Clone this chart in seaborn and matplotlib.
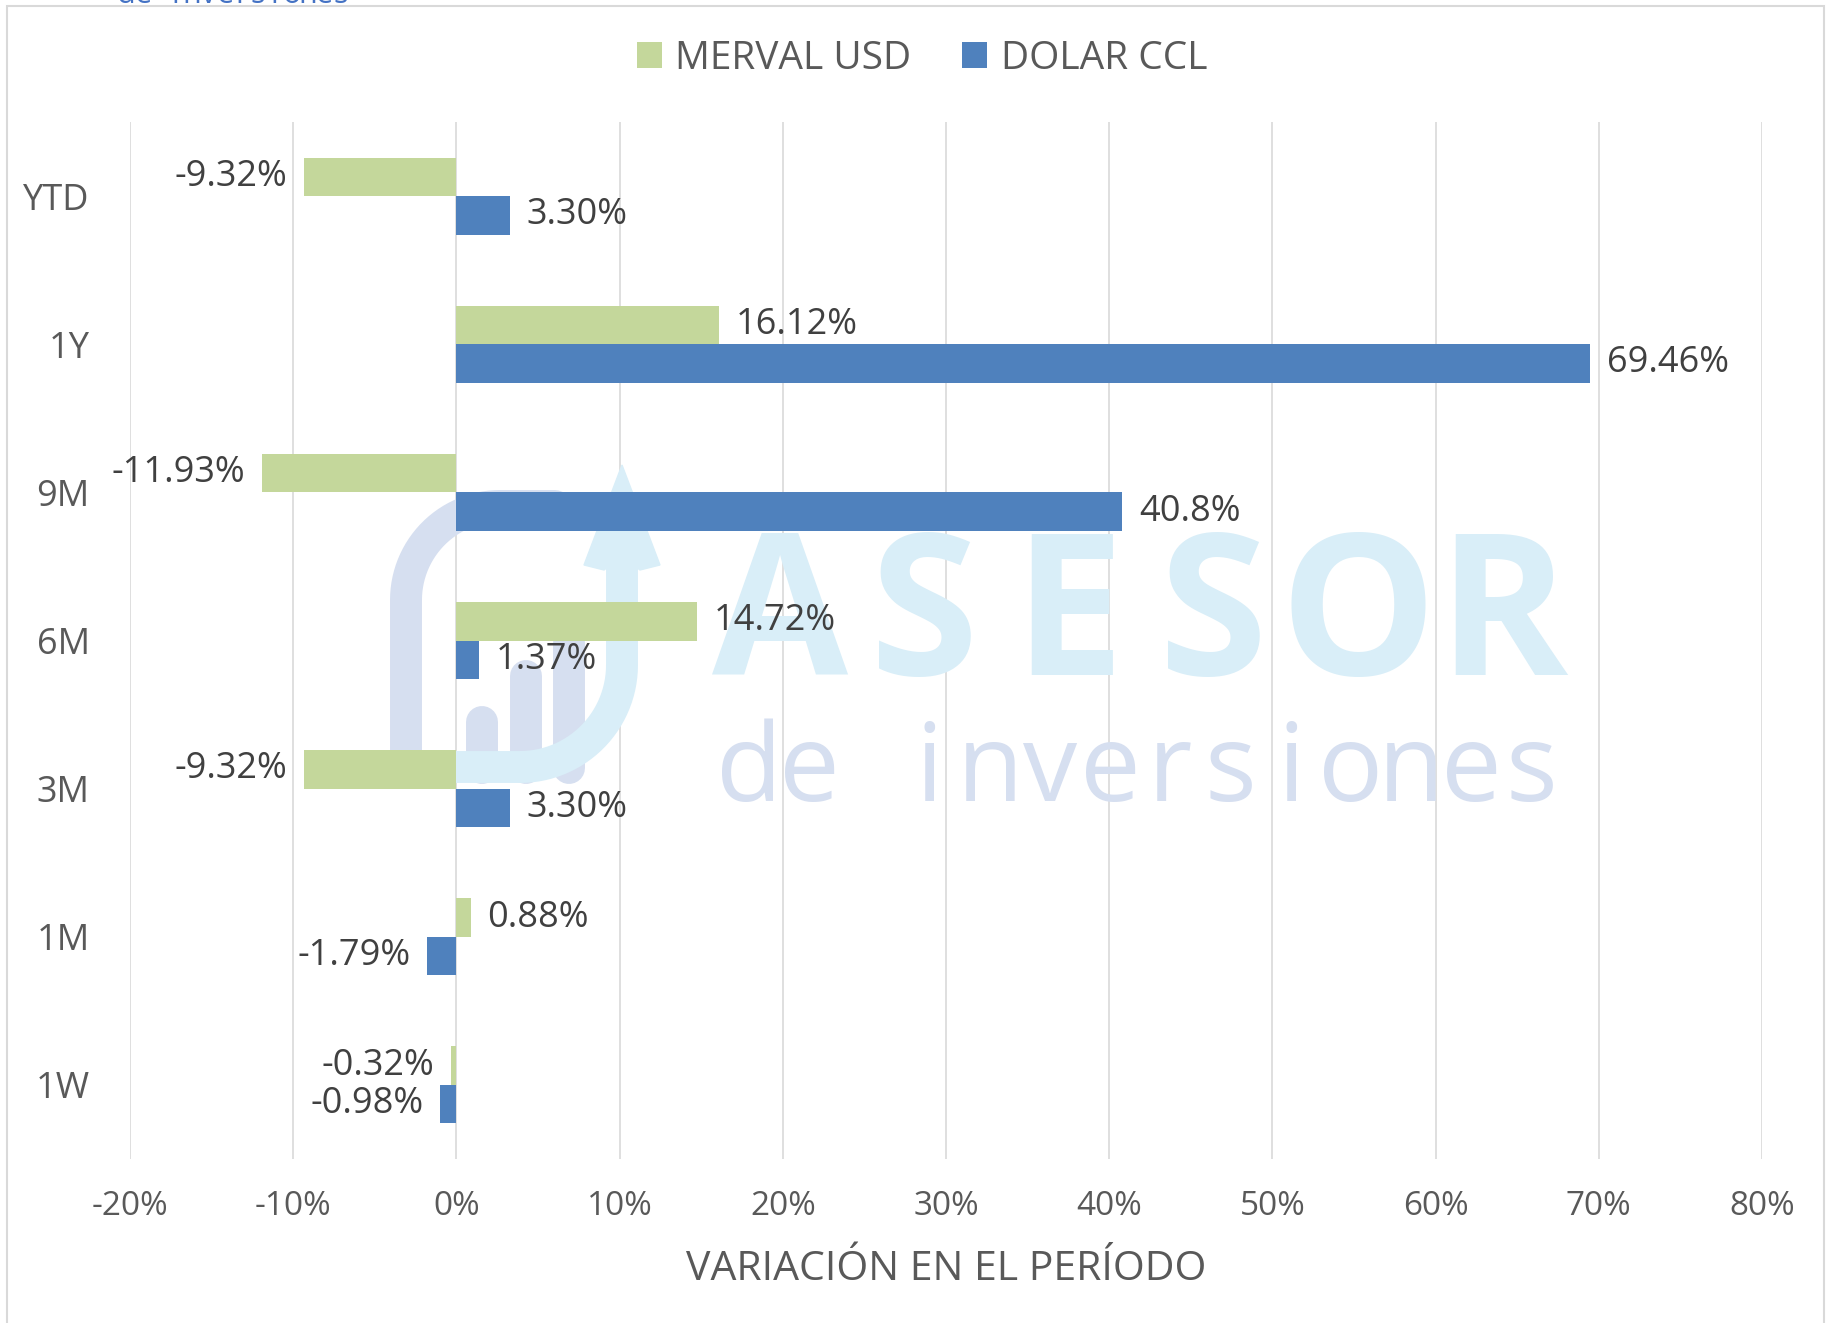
import matplotlib

matplotlib.use("Agg")

import matplotlib.pyplot as plt
import numpy as np
import pandas as pd
import seaborn as sns
from matplotlib.lines import Line2D
from matplotlib.patches import Polygon, Rectangle
from matplotlib.ticker import FuncFormatter
from matplotlib.transforms import Affine2D

periods = ["YTD", "1Y", "9M", "6M", "3M", "1M", "1W"]
series_names = ["MERVAL USD", "DOLAR CCL"]
merval_usd = [-9.32, 16.12, -11.93, 14.72, -9.32, 0.88, -0.32]
dolar_ccl = [3.30, 69.46, 40.8, 1.37, 3.30, -1.79, -0.98]
merval_labels = ["-9.32%", "16.12%", "-11.93%", "14.72%", "-9.32%", "0.88%", "-0.32%"]
dolar_labels = ["3.30%", "69.46%", "40.8%", "1.37%", "3.30%", "-1.79%", "-0.98%"]
x_ticks = [-20, -10, 0, 10, 20, 30, 40, 50, 60, 70, 80]

W, H = 1826, 1323
TEXT = "#595959"
LABEL = "#404040"
LAVENDER = "#d6dff0"
LIGHT_BLUE = "#d9eef8"

sns.set_theme(style="white")
plt.rcParams["font.family"] = ["Open Sans", "DejaVu Sans"]

df = pd.DataFrame(
    {
        "period": periods * 2,
        "serie": [series_names[0]] * len(periods) + [series_names[1]] * len(periods),
        "valor": merval_usd + dolar_ccl,
    }
)

fig = plt.figure(figsize=(W / 100, H / 100), dpi=100)
ax = fig.add_axes([130 / W, 1 - 1159 / H, (1762 - 130) / W, (1159 - 122) / H])
# pixel coordinates, origin top-left, for the decoration
px = Affine2D().scale(1 / W, -1 / H).translate(0, 1) + fig.transFigure

sns.barplot(
    data=df,
    y="period",
    x="valor",
    hue="serie",
    order=periods,
    hue_order=series_names,
    palette=["#c4d79b", "#4f81bd"],
    orient="h",
    width=0.52,
    saturation=1,
    linewidth=0,
    ax=ax,
    zorder=2,
)

for container, labels in zip(ax.containers, [merval_labels, dolar_labels]):
    ax.bar_label(container, labels=labels, padding=12, fontsize=26, color=LABEL)

ax.set_xlim(-20, 80)
ax.set_xticks(x_ticks)
ax.xaxis.set_major_formatter(FuncFormatter(lambda v, _: f"{v:.0f}%"))
ax.grid(axis="x", color="#d9d9d9", linewidth=1.2)
ax.set_axisbelow(True)
sns.despine(ax=ax, left=True, bottom=True)
ax.tick_params(axis="y", length=0, pad=29, labelsize=26, labelcolor=TEXT)
ax.tick_params(axis="x", length=0, pad=22, labelsize=24, labelcolor=TEXT)
ax.set_ylabel("")
ax.set_xlabel("VARIACIÓN EN EL PERÍODO", fontsize=29.5, color=TEXT)
ax.xaxis.set_label_coords(0.5, (1159 - 1270) / (1159 - 122))
ax.xaxis.label.set_va("center")

handles, names = ax.get_legend_handles_labels()
ax.legend(
    handles,
    names,
    loc="center",
    bbox_to_anchor=(922 / W, 1 - 59 / H),
    bbox_transform=fig.transFigure,
    ncol=2,
    frameon=False,
    fontsize=28,
    labelcolor=TEXT,
    handlelength=0.64,
    handleheight=0.64,
    handletextpad=0.35,
    columnspacing=1.3,
)

# watermark logo
def stroke(xs, ys, color, z):
    ax.add_line(
        Line2D(xs, ys, transform=px, color=color, linewidth=23,
               solid_capstyle="round", solid_joinstyle="round",
               clip_on=False, zorder=z)
    )

t = np.linspace(np.pi, np.pi / 2, 30)
stroke(np.r_[406, 500 + 94 * np.cos(t), 555], np.r_[772, 600 - 94 * np.sin(t), 506], LAVENDER, 0.8)
for bx, top in [(482, 722), (526, 676), (569, 643)]:
    stroke([bx, bx], [top, 768], LAVENDER, 0.8)
t = np.linspace(0, np.pi / 2, 30)
stroke(np.r_[622, 520 + 102 * np.cos(t), 452], np.r_[560, 665 + 102 * np.sin(t), 767], LIGHT_BLUE, 0.85)
ax.add_patch(
    Polygon([(622, 465), (660, 565), (640, 570), (622, 556), (604, 570), (584, 565)],
            closed=True, transform=px, color=LIGHT_BLUE, clip_on=False, zorder=0.85)
)

mark_font = ["Open Sans", "DejaVu Sans"]
for i, ch in enumerate("ASESOR"):
    ax.text(780 + i * 144.4, 675, ch, transform=px, ha="center", va="baseline",
            fontsize=142, fontweight="bold", color=LIGHT_BLUE, family=mark_font,
            clip_on=False, zorder=0.8)
for i, ch in enumerate("de inversiones"):
    ax.text(749 + i * 60.2, 801, ch, transform=px, ha="center", va="baseline",
            fontsize=78, color=LAVENDER, family=mark_font, clip_on=False, zorder=0.8)

# cut-off header logo text
for i, ch in enumerate("de inversiones"):
    fig.text(126 + i * 16.5, 3, ch, transform=px, ha="center", va="baseline",
             fontsize=22, color="#4472c4", family=mark_font)

fig.add_artist(
    Rectangle((7 / W, -0.01), 1 - 9 / W, 1 - 6 / H + 0.01, transform=fig.transFigure,
              fill=False, edgecolor="#d9d9d9", linewidth=1.5)
)

fig.savefig("out.png", dpi=100)
